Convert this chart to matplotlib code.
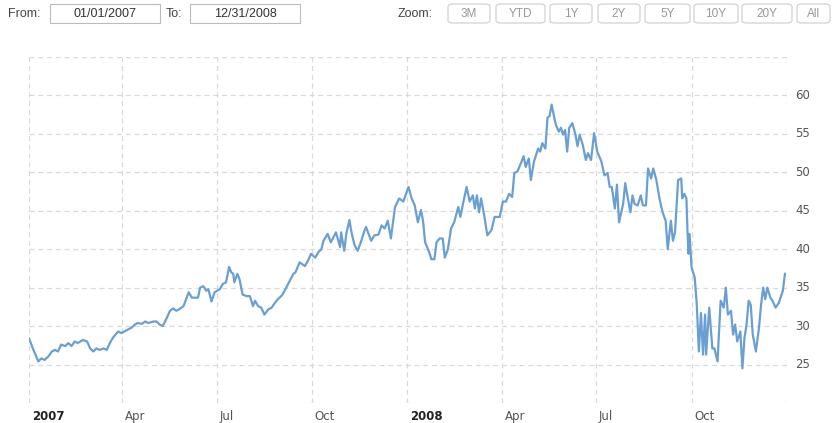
import datetime as dt

import matplotlib
matplotlib.use("Agg")
import matplotlib.pyplot as plt
from matplotlib.patches import FancyBboxPatch

# day offsets from 2007-01-01 and closing prices
days = [0, 4, 9, 12, 15, 19, 22, 25, 28, 31, 35, 38, 41, 44, 47, 52, 56, 59, 62, 65,
        68, 72, 75, 78, 81, 86, 89, 92, 96, 99, 102, 105, 109, 112, 115, 120, 123, 126,
        129, 133, 136, 139, 142, 145, 149, 152, 154, 157, 160, 163, 165, 168, 171, 173,
        176, 179, 184, 187, 190, 193, 195, 197, 198, 201, 203, 206, 210, 213, 216, 218,
        221, 224, 227, 231, 234, 237, 240, 244, 248, 255, 257, 261, 266, 269, 272, 276,
        279, 282, 284, 288, 291, 293, 296, 300, 301, 304, 306, 309, 311, 314, 317, 320,
        323, 325, 328, 330, 333, 337, 340, 343, 346, 349, 353, 357, 361, 366, 369, 372,
        375, 378, 380, 382, 386, 388, 391, 393, 396, 399, 401, 404, 407, 410, 414, 416,
        419, 422, 425, 428, 430, 432, 434, 436, 439, 442, 446, 449, 454, 457, 460, 463,
        466, 468, 471, 475, 477, 479, 482, 484, 487, 491, 493, 495, 498, 500, 502, 504,
        506, 508, 511, 513, 515, 517, 519, 521, 524, 527, 529, 531, 534, 537, 539, 542,
        545, 548, 552, 555, 558, 560, 562, 565, 567, 569, 573, 575, 577, 580, 582, 584,
        587, 590, 592, 595, 597, 600, 602, 605, 608, 611, 614, 616, 619, 621, 623, 626,
        629, 630, 632, 634, 635, 636, 637, 639, 642, 644, 646, 648, 650, 652, 653, 656,
        659, 661, 664, 667, 670, 672, 674, 677, 679, 681, 683, 686, 688, 690, 692, 694,
        696, 698, 701, 704, 706, 708, 710, 712, 715, 717, 720, 723, 727, 729]
prices = [28.4, 27.0, 25.4, 25.8, 25.6, 26.1, 26.7, 26.9, 26.7, 27.6, 27.4, 27.8, 27.4,
          28.0, 27.8, 28.2, 28.0, 27.1, 26.7, 27.1, 26.9, 27.1, 26.9, 27.8, 28.5, 29.3,
          29.1, 29.3, 29.6, 29.8, 30.2, 30.4, 30.3, 30.6, 30.4, 30.6, 30.6, 30.2, 30.0,
          31.1, 32.0, 32.3, 32.0, 32.2, 32.6, 33.7, 34.4, 33.7, 33.7, 33.7, 35.0, 35.2,
          34.6, 34.8, 33.2, 34.4, 34.8, 35.5, 35.7, 37.7, 37.0, 36.8, 35.7, 36.8, 36.1,
          34.1, 33.9, 33.9, 32.6, 33.3, 32.6, 32.4, 31.5, 32.2, 32.4, 33.0, 33.5, 34.0,
          35.0, 36.8, 37.0, 38.3, 37.8, 38.5, 39.4, 38.9, 39.6, 40.0, 41.1, 42.0, 40.9,
          41.4, 42.2, 40.3, 42.2, 39.8, 42.0, 43.8, 42.2, 40.5, 39.8, 40.9, 42.2, 42.9,
          41.8, 41.1, 41.8, 41.9, 43.1, 42.7, 43.7, 41.4, 45.5, 46.6, 46.2, 48.1, 46.6,
          45.7, 43.5, 45.1, 43.7, 40.9, 39.6, 38.7, 38.7, 40.9, 41.4, 41.4, 38.9, 40.0,
          42.7, 43.5, 45.5, 44.2, 46.2, 48.1, 46.2, 47.0, 45.3, 47.0, 44.8, 46.6, 44.4,
          41.8, 42.5, 44.2, 44.2, 46.2, 46.2, 47.2, 46.8, 49.9, 50.1, 51.4, 52.1, 50.7,
          51.8, 49.0, 51.4, 53.1, 52.7, 53.8, 53.1, 57.1, 57.3, 58.8, 57.5, 56.2, 55.3,
          55.8, 54.9, 55.5, 52.7, 55.8, 56.4, 54.9, 53.4, 54.9, 53.6, 51.6, 52.5, 51.6,
          55.1, 52.7, 51.4, 49.6, 49.9, 48.1, 48.1, 45.3, 48.4, 43.5, 45.9, 48.6, 47.0,
          44.8, 47.0, 45.9, 45.7, 47.0, 45.7, 45.7, 50.5, 49.2, 50.5, 49.0, 46.6, 44.8,
          43.7, 40.0, 43.7, 41.1, 42.2, 49.0, 49.2, 46.6, 47.2, 46.6, 42.4, 39.4, 42.0,
          37.6, 36.3, 32.8, 26.7, 31.7, 26.3, 31.5, 26.3, 32.4, 27.1, 27.1, 25.4, 33.3,
          32.4, 35.0, 31.5, 32.0, 28.9, 30.2, 28.0, 29.3, 24.5, 28.5, 30.2, 33.3, 32.8,
          28.9, 26.7, 29.8, 32.8, 35.0, 33.5, 35.0, 33.7, 33.3, 32.4, 33.0, 34.6, 36.8]

start = dt.date(2007, 1, 1)
dates = [start + dt.timedelta(days=d) for d in days]

tick_dates = [dt.date(2007, 1, 1), dt.date(2007, 4, 1), dt.date(2007, 7, 1), dt.date(2007, 10, 1),
              dt.date(2008, 1, 1), dt.date(2008, 4, 1), dt.date(2008, 7, 1), dt.date(2008, 10, 1)]
tick_labels = ["2007", "Apr", "Jul", "Oct", "2008", "Apr", "Jul", "Oct"]
y_ticks = [25, 30, 35, 40, 45, 50, 55, 60]

zoom_buttons = ["3M", "YTD", "1Y", "2Y", "5Y", "10Y", "20Y", "All"]

W, H = 835, 423
LINE = "#6a9fd4"
GRID = "#d9d9d9"
LABEL = "#555555"


def fx(x):
    return x / W


def fy(y):
    return 1 - y / H


fig = plt.figure(figsize=(W / 100, H / 100), dpi=100)
ax = fig.add_axes([fx(29), fy(403), fx(787) - fx(29), fy(57) - fy(403)])

ax.plot(dates, prices, color=LINE, linewidth=1.6, solid_joinstyle="round")

ax.set_xlim(dt.date(2007, 1, 1), dt.date(2009, 1, 1))
ax.set_ylim(20, 65)

# grid: dashed light lines, vertical at ticks + right edge, horizontal every 5
for d in tick_dates + [dt.date(2009, 1, 1)]:
    ax.axvline(d, color=GRID, linestyle=(0, (4, 3)), linewidth=0.9, zorder=0)
for v in [20] + y_ticks + [65]:
    ax.axhline(v, color=GRID, linestyle=(0, (4, 3)), linewidth=0.9, zorder=0)

for s in ax.spines.values():
    s.set_visible(False)
ax.set_xticks([])
ax.set_yticks([])

# x labels, left aligned just after each gridline
for d, lab in zip(tick_dates, tick_labels):
    bold = lab.isdigit()
    ax.annotate(lab, (d, 20), xytext=(2, -5), textcoords="offset points",
                ha="left", va="top", fontsize=8.5,
                fontweight="bold" if bold else "normal",
                color="#222222" if bold else LABEL)

# y labels on the right
for v in y_ticks:
    ax.annotate(str(v), (1, v), xycoords=("axes fraction", "data"),
                xytext=(6, 0), textcoords="offset points",
                ha="left", va="center", fontsize=8.5, color=LABEL)

# range selector / zoom controls on top
ui_font = ["Liberation Sans", "DejaVu Sans"]
fig.text(fx(8), fy(14), "From:", fontsize=9, color="#444444", va="center", family=ui_font)
fig.text(fx(166), fy(14), "To:", fontsize=9, color="#444444", va="center", family=ui_font)
for x0, x1, txt in [(50, 160, "01/01/2007"), (190, 300, "12/31/2008")]:
    fig.patches.append(FancyBboxPatch((fx(x0), fy(23)), fx(x1) - fx(x0), fy(4) - fy(23),
                                      boxstyle="square,pad=0", transform=fig.transFigure,
                                      facecolor="white", edgecolor="#bbbbbb", linewidth=0.8))
    fig.text(fx((x0 + x1) / 2), fy(14), txt, fontsize=9, color="#333333",
             ha="center", va="center", family=ui_font)

fig.text(fx(398), fy(14), "Zoom:", fontsize=9, color="#444444", va="center", family=ui_font)
btn_x = [(448, 490), (496, 545), (550, 592), (598, 640), (645, 690), (694, 738), (742, 792), (797, 830)]
for (x0, x1), txt in zip(btn_x, zoom_buttons):
    fig.patches.append(FancyBboxPatch((fx(x0), fy(23)), fx(x1) - fx(x0), fy(4) - fy(23),
                                      boxstyle="round,pad=0,rounding_size=0.006",
                                      transform=fig.transFigure,
                                      facecolor="white", edgecolor="#cccccc", linewidth=0.8))
    fig.text(fx((x0 + x1) / 2), fy(14), txt, fontsize=8.5, color="#999999",
             ha="center", va="center", family=ui_font)

fig.savefig("out.png", dpi=100)
plt.close(fig)
